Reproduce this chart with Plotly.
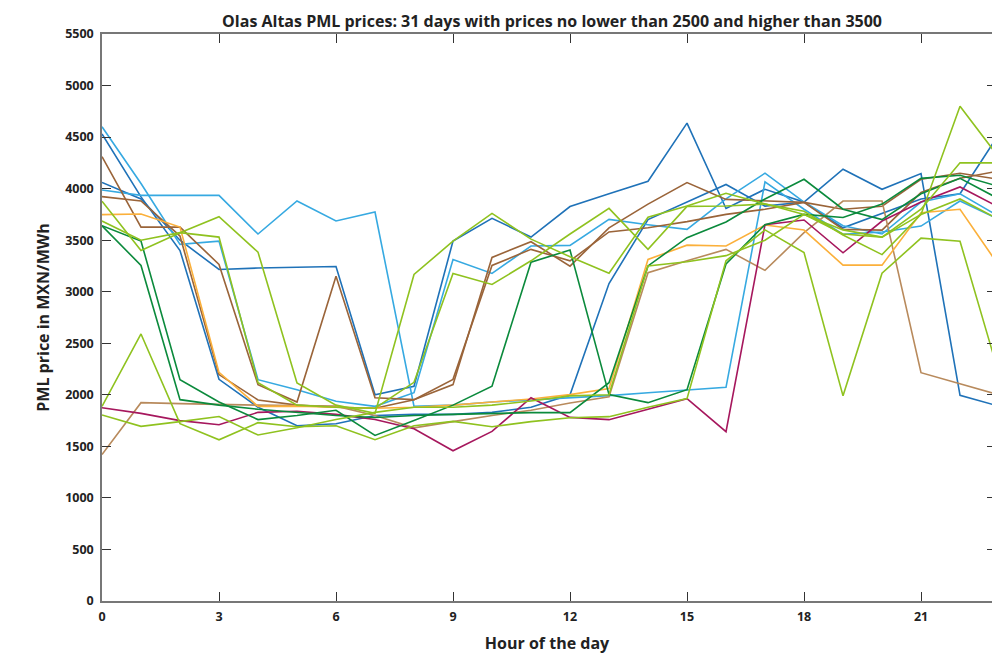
import plotly.graph_objects as go

hours = list(range(24))

db1 = [4530, 3920, 3400, 2150, 1880, 1700, 1720, 1800, 1810, 1810, 1830, 1880, 2000, 3080, 3700, 3870, 4040, 3830, 3870, 3620, 3760, 3900, 3950, 4530]
db2 = [4060, 3900, 3500, 3216, 3230, 3240, 3245, 2000, 2083, 3492, 3712, 3530, 3826, 3950, 4071, 4635, 3807, 3994, 3870, 4188, 3994, 4146, 1995, 1890]
lb1 = [4600, 4050, 3459, 3491, 2147, 2050, 1937, 1888, 2021, 3313, 3177, 3443, 3450, 3702, 3650, 3605, 3900, 4150, 3870, 3640, 3560, 3870, 3950, 3730]
lb2 = [3987, 3935, 3935, 3935, 3560, 3880, 3686, 3773, 1888, 1900, 1930, 1950, 1970, 1992, 2020, 2050, 2073, 4065, 3800, 3556, 3579, 3637, 3880, 3700]
br1 = [4310, 3627, 3627, 3265, 2099, 1930, 3151, 1972, 1953, 2099, 3333, 3485, 3248, 3620, 3850, 4059, 3896, 3880, 3867, 3800, 3829, 4091, 4149, 4090]
br2 = [3923, 3880, 3540, 2196, 1950, 1900, 1880, 1870, 1953, 2150, 3255, 3411, 3300, 3580, 3620, 3680, 3750, 3800, 3867, 3605, 3598, 3962, 4100, 4172]
tan = [1420, 1924, 1915, 1905, 1900, 1895, 1890, 1800, 1680, 1740, 1800, 1850, 1920, 1980, 3184, 3300, 3411, 3207, 3573, 3880, 3880, 2215, 2110, 2000]
orange = [3748, 3754, 3627, 2218, 1888, 1890, 1880, 1870, 1880, 1900, 1930, 1960, 2002, 2060, 3313, 3452, 3443, 3647, 3598, 3258, 3258, 3767, 3800, 3250]
crimson = [1875, 1820, 1750, 1710, 1830, 1840, 1810, 1760, 1671, 1457, 1645, 1972, 1781, 1759, 1860, 1963, 1642, 3650, 3696, 3378, 3686, 3870, 4016, 3820]
dg1 = [3640, 3491, 2147, 1930, 1760, 1800, 1850, 1606, 1750, 1900, 2083, 3287, 3404, 2002, 1924, 2050, 3270, 3650, 3750, 3720, 3850, 4100, 4130, 4020]
dg2 = [3640, 3255, 1953, 1900, 1860, 1830, 1800, 1780, 1800, 1810, 1820, 1827, 1827, 2118, 3250, 3524, 3676, 3900, 4091, 3800, 3700, 3950, 4100, 3900]
lg1 = [3877, 3401, 3573, 3728, 3384, 2115, 1900, 1820, 3168, 3490, 3760, 3510, 3340, 3180, 3722, 3831, 3955, 3850, 3750, 3600, 3530, 3800, 4250, 4250]
lg2 = [3686, 3500, 3573, 3530, 2118, 1900, 1880, 1870, 2121, 3177, 3070, 3300, 3560, 3809, 3411, 3828, 3831, 3850, 3780, 3550, 3360, 3750, 4800, 4300]
lg3 = [1888, 2590, 1720, 1564, 1730, 1690, 1700, 1564, 1700, 1742, 1690, 1740, 1778, 1788, 1880, 1963, 3300, 3600, 3380, 1990, 3180, 3520, 3490, 2200]
lg4 = [1804, 1694, 1740, 1790, 1610, 1680, 1760, 1830, 1880, 1880, 1900, 1940, 1990, 2000, 3250, 3290, 3350, 3500, 3750, 3560, 3530, 3750, 3900, 3700]

series = [
    (db1, "#1f72b8"), (db2, "#1f72b8"),
    (lb1, "#36a9e1"), (lb2, "#36a9e1"),
    (br1, "#9a6439"), (br2, "#9a6439"),
    (tan, "#b88a5c"), (orange, "#fbb03b"), (crimson, "#a6175d"),
    (dg1, "#0b8a3c"), (dg2, "#0b8a3c"),
    (lg1, "#8fc21f"), (lg2, "#8fc21f"), (lg3, "#8fc21f"), (lg4, "#8fc21f"),
]

xticks = [0, 3, 6, 9, 12, 15, 18, 21]
yticks = list(range(0, 5501, 500))

fig = go.Figure()
for ys, col in series:
    fig.add_trace(go.Scatter(x=hours, y=ys, mode="lines",
                             line=dict(color=col, width=1.6), showlegend=False,
                             hoverinfo="skip"))

font = "Open Sans, Noto Sans, sans-serif"
fig.update_layout(
    width=992, height=655,
    margin=dict(l=102, r=0, t=34, b=54),
    paper_bgcolor="white", plot_bgcolor="white",
    title=dict(text="<b>Olas Altas PML prices: 31 days with prices no lower than 2500 and higher than 3500</b>",
               x=0.5565, xanchor="center", y=0.968, yanchor="middle",
               font=dict(family=font, size=16, color="#222")),
    font=dict(family=font, color="#222"),
    xaxis=dict(range=[0, 22.82], tickvals=xticks, ticks="inside", ticklen=9,
               tickcolor="#333", tickwidth=1.2, ticklabelstandoff=3,
               showline=True, mirror="ticks", linecolor="#777", linewidth=1.5,
               showgrid=False, zeroline=False,
               tickfont=dict(family=font, size=12.5, color="#222", weight="bold"),
               title=dict(text="<b>Hour of the day</b>", standoff=14,
                          font=dict(family=font, size=16, color="#222"))),
    yaxis=dict(range=[0, 5500], tickvals=yticks, ticks="inside", ticklen=9,
               tickcolor="#333", tickwidth=1.2, ticklabelstandoff=4,
               showline=True, mirror=False, linecolor="#777", linewidth=1.5,
               showgrid=False, zeroline=False,
               tickfont=dict(family=font, size=12.5, color="#222", weight="bold"),
               title=dict(text="<b>PML price in MXN/MWh</b>", standoff=12,
                          font=dict(family=font, size=16, color="#222"))),
    yaxis2=dict(range=[0, 5500], tickvals=yticks, ticks="inside", ticklen=5,
                tickcolor="#333", tickwidth=1.2, overlaying="y", side="right",
                showline=False, showgrid=False, zeroline=False, showticklabels=False),
)
fig.add_trace(go.Scatter(x=[None], y=[None], yaxis="y2", showlegend=False, hoverinfo="skip"))
fig.write_html("out.html")
